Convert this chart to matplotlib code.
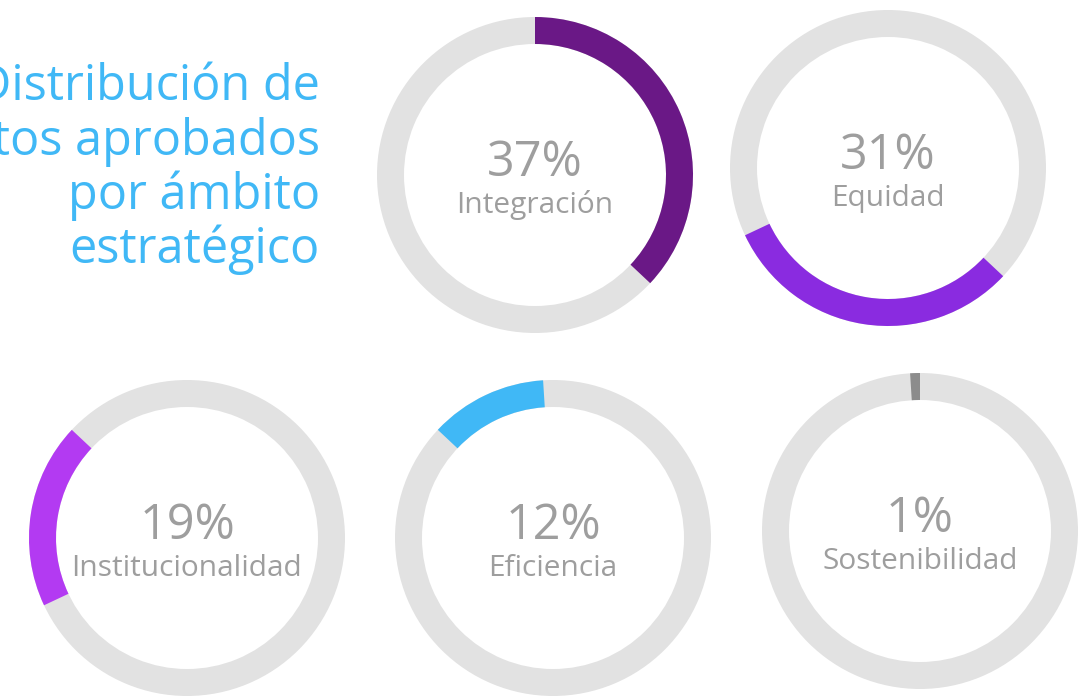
import matplotlib.pyplot as plt

plt.rcParams['font.family'] = ['Open Sans', 'DejaVu Sans']

# share of approved projects per strategic area
areas = ['Integración', 'Equidad', 'Institucionalidad', 'Eficiencia', 'Sostenibilidad']
shares = [37, 31, 19, 12, 1]
colors = ['#6a1886', '#8a2be0', '#b33af2', '#40b8f6', '#8c8c8c']
title_lines = ['Distribución de', 'proyectos aprobados', 'por ámbito', 'estratégico']

ring = '#e2e2e2'
text_grey = '#9e9e9e'
blue = '#40b8f6'

W, H = 1091, 696
fig = plt.figure(figsize=(W / 100, H / 100), dpi=100)

# donut centres in pixels (x, y from top)
centres = [(535, 175), (888, 168), (187, 538), (553, 538), (920, 531)]
R = 158
thick = 27

offset = 0
for name, val, col, (cx, cy) in zip(areas, shares, colors, centres):
    ax = fig.add_axes([(cx - R) / W, (H - cy - R) / H, 2 * R / W, 2 * R / H])
    # background ring
    ax.pie([1], colors=[ring], radius=1, startangle=90,
           wedgeprops=dict(width=thick / R, linewidth=0))
    # each area sits after the ones before it, clockwise from the top
    ax.pie([offset, val, 100 - offset - val], colors=['none', col, 'none'],
           radius=1, startangle=90, counterclock=False, normalize=True,
           wedgeprops=dict(width=thick / R, linewidth=0))
    ax.set_xlim(-1, 1)
    ax.set_ylim(-1, 1)
    ax.set_aspect('equal')
    ax.axis('off')
    offset += val

    fig.text(cx / W, (H - cy - 1) / H, f'{val}%', ha='center', va='baseline',
             fontsize=35, color=text_grey)
    fig.text(cx / W, (H - cy - 38) / H, name, ha='center', va='baseline',
             fontsize=21.5, color=text_grey)

baselines = [100, 155, 209, 263]
for line, b in zip(title_lines, baselines):
    fig.text(320 / W, (H - b) / H, line, ha='right', va='baseline',
             fontsize=35, color=blue)

fig.savefig('out.png', dpi=100, facecolor='white')
